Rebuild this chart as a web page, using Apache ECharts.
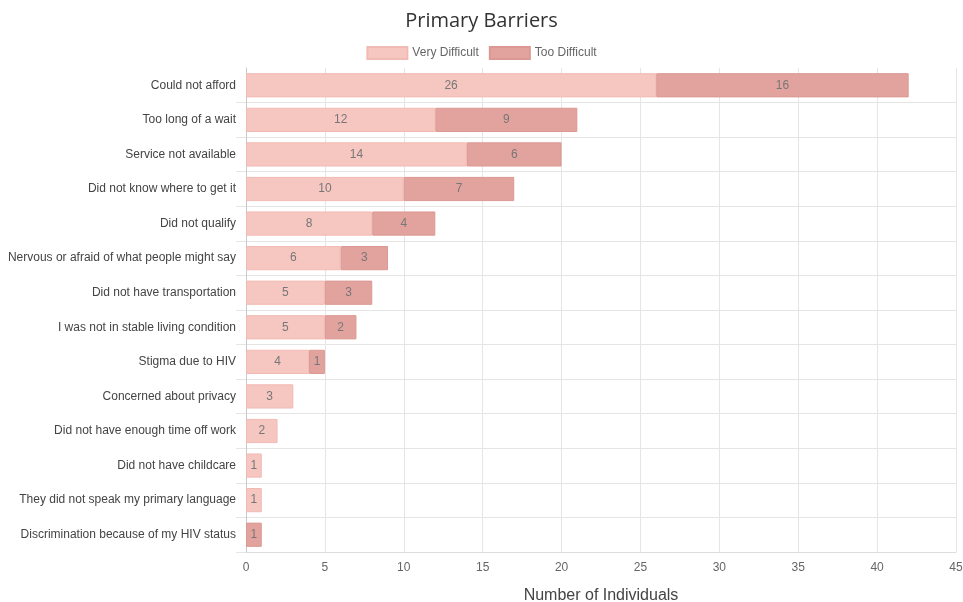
<!DOCTYPE html>
<html><head><meta charset="utf-8">
<script src="https://cdn.jsdelivr.net/npm/echarts@6/dist/echarts.min.js"></script>
<style>html,body{margin:0;padding:0;background:#fff}#c{width:963px;height:602px}</style>
</head><body><div id="c"></div>
<script>
const categories = ["Could not afford","Too long of a wait","Service not available","Did not know where to get it","Did not qualify","Nervous or afraid of what people might say","Did not have transportation","I was not in stable living condition","Stigma due to HIV","Concerned about privacy","Did not have enough time off work","Did not have childcare","They did not speak my primary language","Discrimination because of my HIV status"];
const veryDifficult = [26,12,14,10,8,6,5,5,4,3,2,1,1,0];
const tooDifficult = [16,9,6,7,4,3,3,2,1,0,0,0,0,1];
const xTicks = [0,5,10,15,20,25,30,35,40,45];

const chart = echarts.init(document.getElementById('c'));
const lbl = {show:true, position:'inside', color:'#777', fontSize:12, fontFamily:'Liberation Sans, Arial',
  formatter: p => p.value ? p.value : ''};
chart.setOption({
  animation:false,
  title:{text:'Primary Barriers', left:'center', top:6, textStyle:{fontFamily:'Open Sans, sans-serif', fontWeight:'normal', fontSize:20, color:'#333'}},
  legend:{top:41, left:'center', itemWidth:40, itemHeight:12, itemGap:10, icon:'rect',
    textStyle:{color:'#666', fontSize:12, fontFamily:'Liberation Sans, Arial'}},
  grid:{left:246, right:7, top:68, bottom:50, containLabel:false, outerBoundsMode:'none'},
  xAxis:{type:'value', min:xTicks[0], max:xTicks[xTicks.length-1], interval:5,
    name:'Number of Individuals', nameLocation:'middle', nameGap:36,
    nameTextStyle:{fontSize:16, color:'#444', fontFamily:'Liberation Sans, Arial'},
    axisLine:{show:true, lineStyle:{color:'#ddd'}},
    axisTick:{show:false},
    axisLabel:{color:'#666', fontSize:12, margin:10, fontFamily:'Liberation Sans, Arial'},
    splitLine:{show:true, lineStyle:{color:'#e5e5e5'}}},
  yAxis:{type:'category', data:categories, inverse:true,
    axisLine:{show:true, lineStyle:{color:'#c8c8c8'}},
    axisTick:{show:true, length:10, interval:(i)=>i>0, lineStyle:{color:'#e5e5e5'}},
    axisLabel:{color:'#444', fontSize:12, margin:10, fontFamily:'Liberation Sans, Arial'},
    splitLine:{show:true, interval:(i)=>i>0, lineStyle:{color:'#e5e5e5'}}},
  series:[
    {name:'Very Difficult', type:'bar', stack:'s', data:veryDifficult.map(v => v || null), barWidth:'70%',
      itemStyle:{color:'#f6c6c1', borderColor:'#f2bab4', borderWidth:1}, label:lbl},
    {name:'Too Difficult', type:'bar', stack:'s', data:tooDifficult.map(v => v || null), barWidth:'70%',
      itemStyle:{color:'#e2a39e', borderColor:'#dc9892', borderWidth:1}, label:lbl}
  ]
});
</script></body></html>
